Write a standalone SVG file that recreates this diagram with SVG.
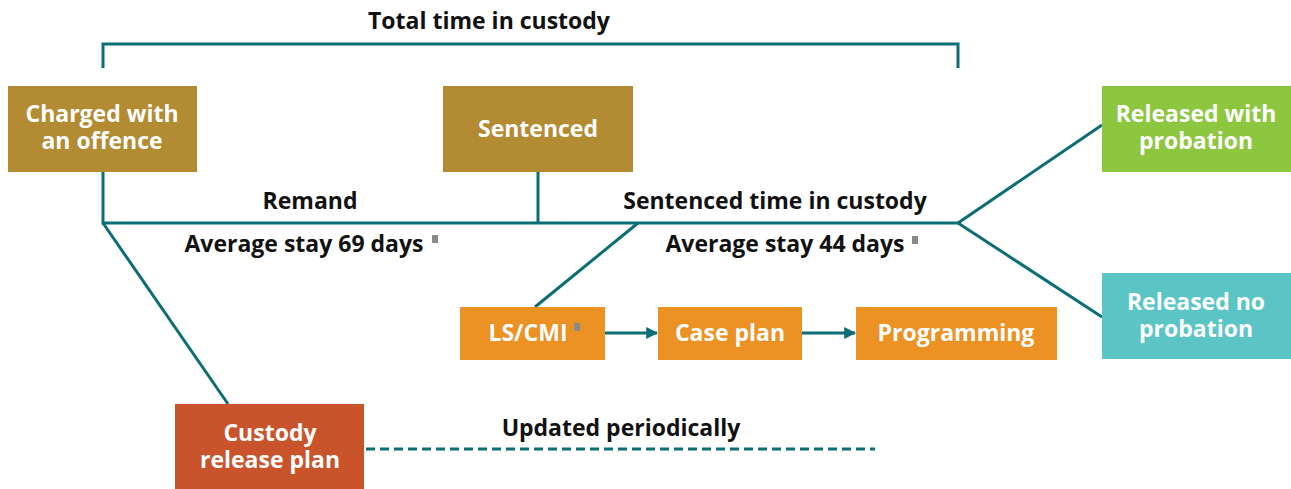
<svg xmlns="http://www.w3.org/2000/svg" width="1291" height="489" viewBox="0 0 1291 489">
<style>
.lbl{font-family:"Open Sans",Lato,sans-serif;font-weight:bold;font-size:23px;fill:#111;text-anchor:middle}
.bt{font-family:"Open Sans",Lato,sans-serif;font-weight:bold;font-size:23px;fill:#fff;text-anchor:middle}
.ln{stroke:#0B6E75;stroke-width:3;fill:none}
.note{fill:#8a8a8a}
</style>
<defs>
<marker id="ah" viewBox="0 0 10 10" refX="9" refY="5" markerWidth="4" markerHeight="5" markerUnits="strokeWidth" orient="auto">
<path d="M0,0 L10,5 L0,10 z" fill="#0B6E75"/>
</marker>
</defs>
<rect width="1291" height="489" fill="#fff"/>
<g id="connectors">
<path class="ln" d="M103,68 V44 H958 V68"/>
<path class="ln" d="M103,172 V223 H958"/>
<path class="ln" d="M538,172 V223"/>
<path class="ln" d="M958,223 L1102,125"/>
<path class="ln" d="M958,223 L1102,317"/>
<path class="ln" d="M103,223 L228,404"/>
<path class="ln" d="M638,223 L535,307"/>
<path class="ln" d="M605,333 H657" marker-end="url(#ah)"/>
<path class="ln" d="M802,333 H855" marker-end="url(#ah)"/>
<path class="ln" d="M366,449 H875" stroke-dasharray="9,5"/>
</g>
<g id="labels">
<text class="lbl" x="489" y="29">Total time in custody</text>
<text class="lbl" x="310" y="209">Remand</text>
<text class="lbl" x="775" y="209">Sentenced time in custody</text>
<text class="lbl" x="304" y="252">Average stay 69 days</text>
<rect class="note" x="432" y="235" width="6" height="8"/>
<text class="lbl" x="785" y="252">Average stay 44 days</text>
<rect class="note" x="912" y="236" width="6" height="8"/>
<text class="lbl" x="621" y="436">Updated periodically</text>
</g>
<g id="charged">
<rect x="8" y="86" width="189" height="86" fill="#B38B32"/>
<text class="bt" x="102" y="122">Charged with<tspan x="102" dy="27">an offence</tspan></text>
</g>
<g id="sentenced">
<rect x="443" y="86" width="190" height="86" fill="#B38B32"/>
<text class="bt" x="538" y="137">Sentenced</text>
</g>
<g id="released-with-probation">
<rect x="1102" y="86" width="189" height="86" fill="#8DC63F"/>
<text class="bt" x="1196" y="122">Released with<tspan x="1196" dy="27">probation</tspan></text>
</g>
<g id="released-no-probation">
<rect x="1102" y="273" width="189" height="86" fill="#5BC5C5"/>
<text class="bt" x="1196" y="310">Released no<tspan x="1196" dy="27">probation</tspan></text>
</g>
<g id="lscmi">
<rect x="460" y="307" width="145" height="53" fill="#EC9123"/>
<text class="bt" x="528" y="341">LS/CMI</text>
<rect class="note" x="574" y="323" width="6" height="8"/>
</g>
<g id="case-plan">
<rect x="658" y="307" width="144" height="53" fill="#EC9123"/>
<text class="bt" x="730" y="341">Case plan</text>
</g>
<g id="programming">
<rect x="856" y="307" width="201" height="53" fill="#EC9123"/>
<text class="bt" x="956" y="341">Programming</text>
</g>
<g id="custody-release-plan">
<rect x="175" y="404" width="189" height="85" fill="#C9532A"/>
<text class="bt" x="270" y="441">Custody<tspan x="270" dy="27">release plan</tspan></text>
</g>
</svg>
